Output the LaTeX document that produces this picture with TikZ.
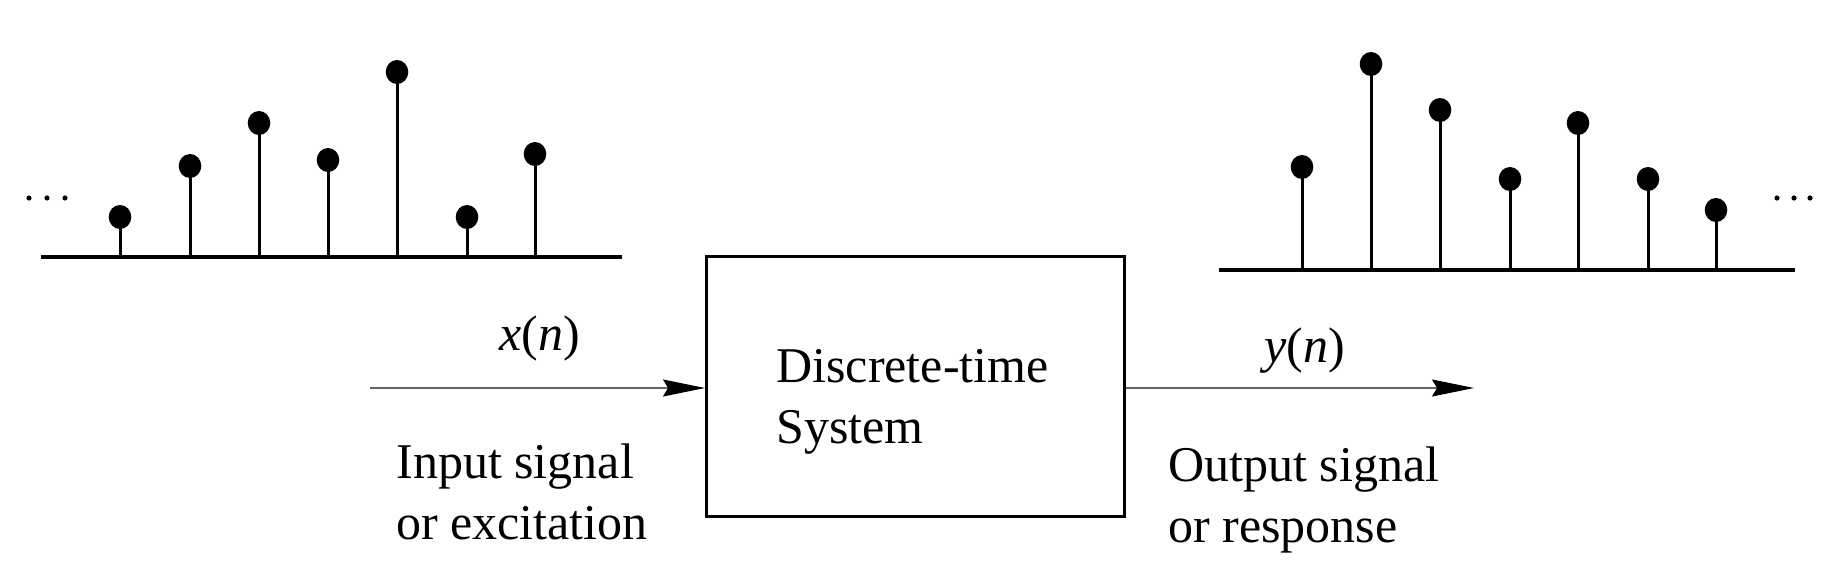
\documentclass[tikz,border=0pt]{standalone}
\usepackage{fontspec}
\setmainfont{Liberation Serif}
\usetikzlibrary{arrows.meta}
\begin{document}
\begin{tikzpicture}[x=0.5pt,y=-0.5pt,
  axis/.style={line width=1.7pt},
  stem/.style={line width=1.5pt},
  dotball/.style={fill=black, draw=none},
  sig/.style={draw=black!60, line width=0.75pt, -{Stealth[length=21pt,width=8.5pt,inset=2.5pt,color=black,fill=black]}},
  sysbox/.style={draw, line width=1.6pt},
  lbl/.style={font=\fontsize{25}{30.5}\selectfont, inner sep=0pt, align=left},
  every node/.style={inner sep=0pt}]
\useasboundingbox (0,0) rectangle (1848,573);
% left signal
\draw[axis] (41,257) -- (622,257);
\foreach \x/\y in {120/217,190/166,259/123,328/160,397/72,467/217,535/154}{
  \draw[stem] (\x,257) -- (\x,\y);
  \fill[dotball] (\x,\y) ellipse [x radius=11.3, y radius=12];
}
\foreach \x in {29,47,65}{ \fill (\x,198) circle [radius=2.6]; }
% right signal
\draw[axis] (1219,270) -- (1795,270);
\foreach \x/\y in {1302/167,1371/64,1440/110,1510/179,1578/123,1648/179,1716/210}{
  \draw[stem] (\x,270) -- (\x,\y);
  \fill[dotball] (\x,\y) ellipse [x radius=11.3, y radius=12];
}
\foreach \x in {1777,1794,1810}{ \fill (\x,198) circle [radius=2.6]; }
% system box
\node[sysbox, minimum width=209pt, minimum height=130pt, anchor=north west] (sys) at (705,255) {};
\node[lbl, anchor=west] (systxt) at (776,402) {Discrete-time\\System};
% arrows
\coordinate (inStart) at (370,388);
\coordinate (outEnd) at (1474,388);
\draw[sig] (inStart) -- (sys.west |- inStart);
\draw[sig] (sys.east |- outEnd) -- (outEnd);
\node[lbl] (xn) at (540,338) {\textit{x}(\textit{n})};
\node[lbl] (yn) at (1305,351) {\textit{y}(\textit{n})};
\node[lbl, anchor=west] (intxt) at (396,492) {Input signal\\or excitation};
\node[lbl, anchor=west] (outtxt) at (1168,500) {Output signal\\or response};
\end{tikzpicture}
\end{document}
